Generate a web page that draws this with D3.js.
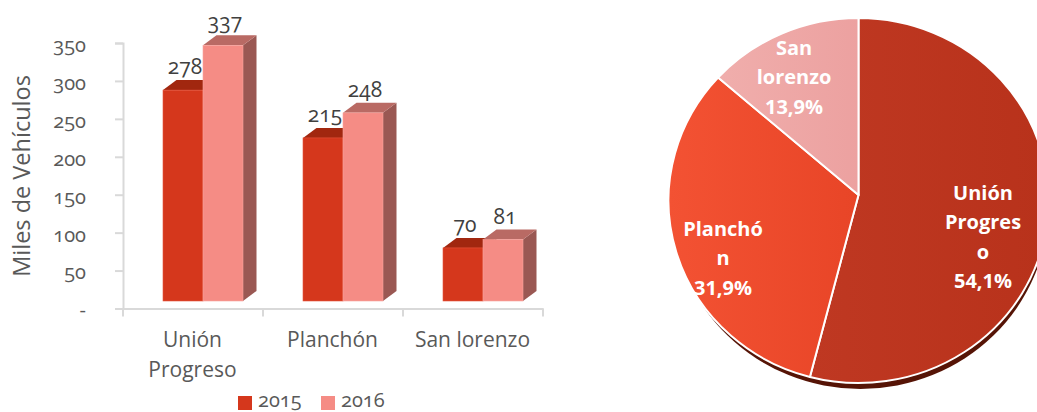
<!DOCTYPE html>
<html>
<head>
<meta charset="utf-8">
<script src="https://d3js.org/d3.v7.min.js"></script>
<style>
html, body { margin: 0; padding: 0; background: #fff; }
svg { display: block; }
text { font-family: "Open Sans", sans-serif; }
.num { font-variant-numeric: oldstyle-nums; font-feature-settings: "onum" 1; }
</style>
</head>
<body>
<svg id="chart" width="1037" height="412"></svg>
<script>
var categories = ["Unión Progreso", "Planchón", "San lorenzo"];
var years = ["2015", "2016"];
var values2015 = [278, 215, 70];
var values2016 = [337, 248, 81];
var yTicks = [0, 50, 100, 150, 200, 250, 300, 350];

var pieNames = [["Unión", "Progres", "o"], ["Planchó", "n"], ["San", "lorenzo"]];
var piePercents = [54.1, 31.9, 13.9];

var svg = d3.select("#chart");

// bars
var x = d3.scaleBand().domain(categories).range([123, 543]);
var xInner = d3.scaleBand().domain(years).range([40, 120]);
var y = d3.scaleLinear().domain([0, 350]).range([308.5, 43]);

var depthX = 13.5, depthY = 10, floorLift = 7.5;

var barColors = {
  "2015": { front: "#d5371c", top: "#a1270f", side: "#8f2a18", edge: "#e8553c" },
  "2016": { front: "#f58c85", top: "#b96a64", side: "#9a5853", edge: "#f8a49e" }
};

var axisY = svg.append("g").attr("transform", "translate(123,0)")
  .call(d3.axisLeft(y).tickValues(yTicks).tickSize(8).tickPadding(29)
    .tickFormat(function(d) { return d === 0 ? "-" : d; }));
axisY.select(".domain").attr("stroke", "#d9d9d9").attr("stroke-width", 2);
axisY.selectAll(".tick line").attr("stroke", "#d9d9d9").attr("stroke-width", 2);
axisY.selectAll("text").attr("class", "num").attr("fill", "#595959").attr("dy", "0.42em")
  .style("font-size", "20px").style("font-family", '"Open Sans", sans-serif');

var axisX = svg.append("g").attr("transform", "translate(0,308.5)")
  .call(d3.axisBottom(x).tickSize(0).tickFormat(""));
axisX.select(".domain").attr("stroke", "#d9d9d9").attr("stroke-width", 2);
axisX.selectAll(".tick").remove();
// ticks sit between the categories
axisX.selectAll("line.sep").data(x.domain().concat(["end"])).enter().append("line")
  .attr("class", "sep")
  .attr("x1", function(d, i) { return i < 3 ? x(d) : x.range()[1]; })
  .attr("x2", function(d, i) { return i < 3 ? x(d) : x.range()[1]; })
  .attr("y1", 0).attr("y2", 8)
  .attr("stroke", "#d9d9d9").attr("stroke-width", 2);

var catLabels = [["Unión", "Progreso"], ["Planchón"], ["San lorenzo"]];
categories.forEach(function(c, i) {
  var t = svg.append("text").attr("text-anchor", "middle").attr("fill", "#595959")
    .style("font-size", "21px");
  catLabels[i].forEach(function(line, j) {
    t.append("tspan").attr("x", x(c) + x.bandwidth() / 2 - 0.5).attr("y", 347 + j * 29.5).text(line);
  });
});

svg.append("text").attr("transform", "translate(30,176) rotate(-90)")
  .attr("text-anchor", "middle").attr("fill", "#595959")
  .style("font-size", "23.5px").text("Miles de Vehículos");

years.forEach(function(yr, s) {
  var vals = s == 0 ? values2015 : values2016;
  var col = barColors[yr];
  var g = svg.append("g");
  var bars = g.selectAll("g").data(vals).enter().append("g");
  function bx(i) { return x(categories[i]) + xInner(yr); }
  var w = xInner.bandwidth();
  bars.append("path").attr("fill", col.side).attr("d", function(d, i) {
    var x1 = bx(i) + w, t = y(d) - floorLift, b = y(0) - floorLift;
    return "M" + x1 + "," + t + "l" + depthX + "," + (-depthY) + "V" + (b - depthY) + "L" + x1 + "," + b + "Z";
  });
  bars.append("path").attr("fill", col.top).attr("d", function(d, i) {
    var t = y(d) - floorLift;
    return "M" + bx(i) + "," + t + "l" + depthX + "," + (-depthY) + "h" + w + "l" + (-depthX) + "," + depthY + "Z";
  });
  bars.append("rect")
    .attr("x", function(d, i) { return bx(i); })
    .attr("y", function(d) { return y(d) - floorLift; })
    .attr("width", w)
    .attr("height", function(d) { return y(0) - y(d); })
    .attr("fill", col.front).attr("stroke", col.edge).attr("stroke-width", 0.6);
});

// data labels go on top of all the bars
years.forEach(function(yr, s) {
  var vals = s == 0 ? values2015 : values2016;
  svg.append("g").selectAll("text").data(vals).enter().append("text")
    .attr("class", "num").attr("text-anchor", "middle").attr("fill", "#404040")
    .style("font-size", "21px")
    .attr("x", function(d, i) { return x(categories[i]) + xInner(yr) + xInner.bandwidth() / 2 + 2; })
    .attr("y", function(d) { return y(d) - floorLift - 16; })
    .text(function(d) { return d; });
});

// legend
var legendX = d3.scalePoint().domain(years).range([238, 321]);
years.forEach(function(yr) {
  svg.append("rect").attr("x", legendX(yr)).attr("y", 396).attr("width", 14).attr("height", 14)
    .attr("fill", barColors[yr].front);
  svg.append("text").attr("class", "num").attr("x", legendX(yr) + 20).attr("y", 407)
    .attr("fill", "#595959").style("font-size", "20px").text(yr);
});

// pie, slightly tilted so it is an ellipse and the apex sits above the ellipse centre
var defs = svg.append("defs");
function gradient(id, a, b) {
  var lg = defs.append("linearGradient").attr("id", id).attr("x1", "0").attr("y1", "0").attr("x2", "1").attr("y2", "0");
  lg.append("stop").attr("offset", "0").attr("stop-color", a);
  lg.append("stop").attr("offset", "1").attr("stop-color", b);
}
gradient("pie0", "#bf3822", "#b8321b");
gradient("pie1", "#f35233", "#e84527");
gradient("pie2", "#f0aeac", "#eca1a0");

var cx = 858.5, cy = 200.5, rx = 190, ry = 182.5, apexY = 195;
var pie = d3.pie().sort(null).value(function(d) { return d; });
var arcs = pie(piePercents);

// where a ray from the apex at angle a meets the ellipse
function rimPoint(a) {
  var dx = Math.sin(a), dy = -Math.cos(a), oy = apexY - cy;
  var qa = dx * dx / (rx * rx) + dy * dy / (ry * ry);
  var qb = 2 * oy * dy / (ry * ry);
  var qc = oy * oy / (ry * ry) - 1;
  var t = (-qb + Math.sqrt(qb * qb - 4 * qa * qc)) / (2 * qa);
  return [cx + t * dx, apexY + t * dy];
}

svg.append("ellipse").attr("cx", cx + 2).attr("cy", cy + 6).attr("rx", rx - 2).attr("ry", ry)
  .attr("fill", "#561406");

svg.append("g").selectAll("path").data(arcs).enter().append("path")
  .attr("fill", function(d, i) { return "url(#pie" + i + ")"; })
  .attr("stroke", "#fff").attr("stroke-width", 2).attr("stroke-linejoin", "round")
  .attr("d", function(d) {
    var p0 = rimPoint(d.startAngle), p1 = rimPoint(d.endAngle);
    var large = d.endAngle - d.startAngle > Math.PI ? 1 : 0;
    return "M" + cx + "," + apexY + "L" + p0[0] + "," + p0[1] +
      "A" + rx + "," + ry + " 0 " + large + " 1 " + p1[0] + "," + p1[1] + "Z";
  });

var pieLabelX = [983, 723, 794];
var pieLabelY = [200, 236, 55];
arcs.forEach(function(d, i) {
  var lines = pieNames[i].concat([String(piePercents[i]).replace(".", ",") + "%"]);
  var t = svg.append("text").attr("text-anchor", "middle").attr("fill", "#fff")
    .style("font-size", "20px").style("font-weight", "700");
  lines.forEach(function(line, j) {
    t.append("tspan").attr("x", pieLabelX[i]).attr("y", pieLabelY[i] + j * 29.3).text(line);
  });
});
</script>
</body>
</html>
